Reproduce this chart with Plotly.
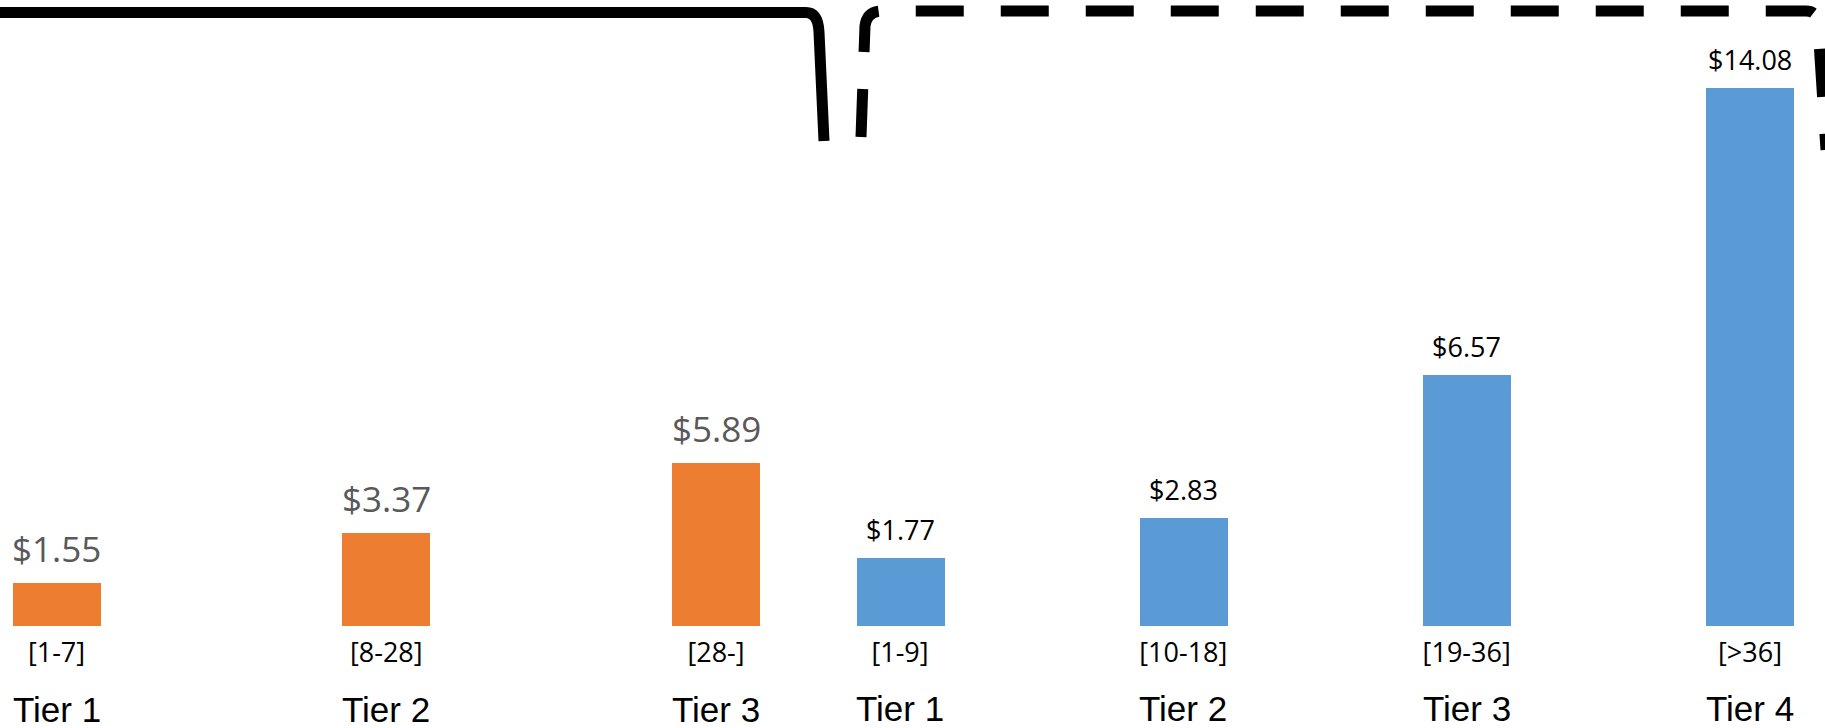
import plotly.graph_objects as go

W, H = 1825, 728

# ---- data ----
orange_tiers = ["Tier 1", "Tier 2", "Tier 3"]
orange_ranges = ["[1-7]", "[8-28]", "[28-]"]
orange_values = [1.55, 3.37, 5.89]

blue_tiers = ["Tier 1", "Tier 2", "Tier 3", "Tier 4"]
blue_ranges = ["[1-9]", "[10-18]", "[19-36]", "[>36]"]
blue_values = [1.77, 2.83, 6.57, 14.08]

ORANGE = "#ED7D31"
BLUE = "#5B9BD5"
LABEL_FONT = "Open Sans, Noto Sans, sans-serif"
TIER_FONT = "Liberation Sans Narrow, Liberation Sans, Arial, sans-serif"

# pixel helpers for layout (paper coords)
def px(x):
    return x / W

def py(y):
    return 1 - y / H

bar_px = 88
o_spacing = 329.75
b_spacing = 283.33
o_dom = [0, 0.45]
b_dom = [0.46, 1.0]
o_first = 56.5
b_first = 900
o_range = [(o_dom[0] * W - o_first) / o_spacing, (o_dom[1] * W - o_first) / o_spacing]
b_range = [(b_dom[0] * W - b_first) / b_spacing, (b_dom[1] * W - b_first) / b_spacing]
y_dom = [py(626), 1.0]

ox = list(range(len(orange_values)))
bx = list(range(len(blue_values)))

fig = go.Figure()
fig.add_trace(go.Bar(x=ox, y=orange_values, marker=dict(color=ORANGE, line=dict(width=0)),
                     width=bar_px / o_spacing, xaxis="x", yaxis="y", showlegend=False,
                     hoverinfo="skip"))
fig.add_trace(go.Bar(x=bx, y=blue_values, marker=dict(color=BLUE, line=dict(width=0)),
                     width=bar_px / b_spacing, xaxis="x2", yaxis="y2", showlegend=False,
                     hoverinfo="skip"))

annotations = []
for i, v in enumerate(orange_values):
    annotations.append(dict(x=i, y=v, xref="x", yref="y", text=f"${v:.2f}", showarrow=False,
                            yanchor="bottom", yshift=9,
                            font=dict(family=LABEL_FONT, size=35, color="#595959")))
    annotations.append(dict(x=i, y=py(709), xref="x", yref="paper", text=orange_tiers[i],
                            showarrow=False, yanchor="middle",
                            font=dict(family=TIER_FONT, size=35, color="black")))
for i, v in enumerate(blue_values):
    annotations.append(dict(x=i, y=v, xref="x2", yref="y2", text=f"${v:.2f}", showarrow=False,
                            yanchor="bottom", yshift=8,
                            font=dict(family=LABEL_FONT, size=27, color="black")))
    annotations.append(dict(x=i, y=py(708), xref="x2", yref="paper", text=blue_tiers[i],
                            showarrow=False, yanchor="middle",
                            font=dict(family=TIER_FONT, size=35, color="black")))

axis_common = dict(showgrid=False, zeroline=False, showline=False, ticks="",
                   tickfont=dict(family=LABEL_FONT, size=27, color="black"),
                   fixedrange=True)

shapes = [
    # solid bracket (left group)
    dict(type="path", xref="paper", yref="paper",
         path=(f"M {px(-10)},{py(12.5)} L {px(806)},{py(12.5)} "
               f"Q {px(818)},{py(12.5)} {px(819)},{py(32)} L {px(824)},{py(141)}"),
         line=dict(color="black", width=11)),
    # dashed bracket (right group)
    dict(type="path", xref="paper", yref="paper",
         path=(f"M {px(861)},{py(137)} L {px(865)},{py(26)} "
               f"Q {px(867)},{py(11)} {px(882)},{py(11)} L {px(1806)},{py(11)} "
               f"Q {px(1818)},{py(11)} {px(1818)},{py(26)} L {px(1826)},{py(150)}"),
         line=dict(color="black", width=11, dash="48px,37px")),
]

fig.update_layout(
    width=W, height=H,
    margin=dict(l=0, r=0, t=0, b=0),
    paper_bgcolor="white", plot_bgcolor="white",
    xaxis=dict(domain=o_dom, range=o_range, tickvals=ox, ticktext=orange_ranges,
               anchor="y", ticklabelstandoff=8, **axis_common),
    yaxis=dict(domain=y_dom, range=[0, 626 / 27.7], visible=False, anchor="x"),
    xaxis2=dict(domain=b_dom, range=b_range, tickvals=bx, ticktext=blue_ranges,
                anchor="y2", ticklabelstandoff=8, **axis_common),
    yaxis2=dict(domain=y_dom, range=[0, 626 / 38.2], visible=False, anchor="x2"),
    annotations=annotations,
    shapes=shapes,
    bargap=0,
)

fig.write_html("out.html", config={"displayModeBar": False},
               post_script="document.body.style.margin='0';document.body.style.overflow='hidden';")
